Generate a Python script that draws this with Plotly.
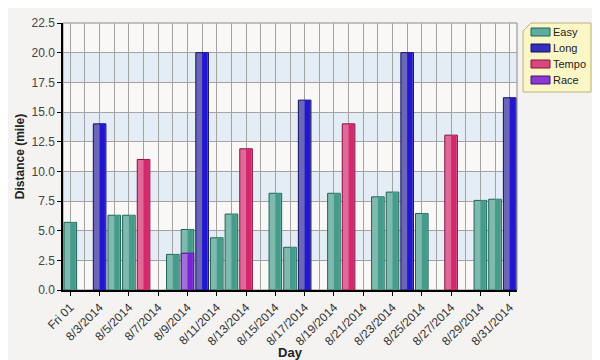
import plotly.graph_objects as go

# ---- data ----
tick_days = list(range(1, 32, 2))
tick_labels = ["Fri 01"] + [f"8/{d}/2014" for d in range(3, 32, 2)]

easy_days = [1, 4, 5, 8, 9, 11, 12, 15, 16, 19, 22, 23, 25, 29, 30]
easy_miles = [5.7, 6.3, 6.3, 3.0, 5.1, 4.4, 6.4, 8.15, 3.6, 8.15, 7.85, 8.25, 6.45, 7.55, 7.65]
long_days = [3, 10, 17, 24, 31]
long_miles = [14.0, 20.0, 16.0, 20.0, 16.2]
tempo_days = [6, 13, 20, 27]
tempo_miles = [11.0, 11.9, 14.0, 13.05]
race_days = [9]
race_miles = [3.1]

# name, days, miles, light fill, dark fill, outline, legend swatch
series = [
    ("Easy", easy_days, easy_miles, "#80b9ae", "#459c8b", "#1d6458", "#5eac9e"),
    ("Long", long_days, long_miles, "#6b66b8", "#2216d2", "#10105e", "#3530b8"),
    ("Tempo", tempo_days, tempo_miles, "#e0699a", "#d2286c", "#861040", "#d8487f"),
    ("Race", race_days, race_miles, "#a070d8", "#7a22d8", "#461078", "#8a3ad0"),
]

W = 0.86
fig = go.Figure()
for name, xs, ys, light, dark, line, sw in series:
    fig.add_trace(go.Bar(
        x=xs, y=ys, name=name, width=W, showlegend=False,
        marker=dict(color=light, line=dict(color=line, width=1)),
    ))
    # darker right half to mimic the shaded bars
    fig.add_trace(go.Bar(
        x=xs, y=ys, name=name, width=W * 0.42, offset=0.0,
        showlegend=False, hoverinfo="skip",
        marker=dict(color=dark, line=dict(width=0)),
    ))

# page body has an 8px margin, so the figure is 8px smaller and shifted
FW, FH = 592, 352
ML, MR, MT, MB = 55, 83, 15, 70
PW, PH = FW - ML - MR, FH - MT - MB


def px(x):  # page pixel -> paper x
    return (x - 8 - ML) / PW


def py(y):  # page pixel -> paper y
    return (FH - MB + 8 - y) / PH


# alternating horizontal bands
shapes = []
for i, y0 in enumerate([0, 2.5, 5, 7.5, 10, 12.5, 15, 17.5, 20]):
    if i % 2 == 1:
        shapes.append(dict(type="rect", xref="paper", yref="y", x0=0, x1=1,
                           y0=y0, y1=y0 + 2.5, fillcolor="#e4edf5",
                           line=dict(width=0), layer="below"))
shapes.append(dict(type="rect", xref="paper", yref="paper", x0=0, x1=1, y0=0, y1=1,
                   line=dict(color="#8a8a8a", width=1), layer="below"))

# custom legend box with clipped corner
bx0, bx1, by0, by1, cut = 523, 591, 23, 92, 8
path = (f"M {px(bx0 + cut)},{py(by0)} L {px(bx1)},{py(by0)} L {px(bx1)},{py(by1)} "
        f"L {px(bx0)},{py(by1)} L {px(bx0)},{py(by0 + cut)} Z")
shapes.append(dict(type="path", xref="paper", yref="paper", path=path,
                   fillcolor="#fbf6c6", line=dict(color="#b9b27a", width=1),
                   layer="above"))
annotations = []
for i, s in enumerate(series):
    name, line, sw = s[0], s[5], s[6]
    cy = 32 + i * 16
    shapes.append(dict(type="rect", xref="paper", yref="paper",
                       x0=px(531), x1=px(550), y0=py(cy - 4), y1=py(cy + 4),
                       fillcolor=sw, line=dict(color=line, width=1), layer="above"))
    annotations.append(dict(xref="paper", yref="paper", x=px(552), y=py(cy),
                            xanchor="left", yanchor="middle", text=name,
                            showarrow=False, borderpad=0,
                            font=dict(size=11, color="#222")))

fig.update_layout(
    width=FW, height=FH,
    barmode="overlay",
    paper_bgcolor="#f4f3f1",
    plot_bgcolor="#f9f8f6",
    margin=dict(l=ML, r=MR, t=MT, b=MB, autoexpand=False),
    font=dict(family="Liberation Sans, Arial, sans-serif", size=12, color="#333"),
    shapes=shapes,
    annotations=annotations,
    showlegend=False,
)
fig.update_xaxes(
    range=[0.5, 31.5], automargin=False,
    tickmode="array", tickvals=tick_days, ticktext=tick_labels,
    tickangle=-45, ticks="outside", ticklen=4, tickcolor="#000",
    showgrid=True, gridcolor="#a3a3a3", gridwidth=1,
    minor=dict(dtick=1, tick0=0, showgrid=True, gridcolor="#a3a3a3", ticks=""),
    showline=True, linecolor="#000", linewidth=1.5, mirror=False,
    zeroline=False,
    title=dict(text="<b>Day</b>", font=dict(size=13, color="#222"), standoff=0),
    tickfont=dict(size=12, color="#333"),
)
fig.update_yaxes(
    range=[0, 22.5], dtick=2.5, tickformat=".1f", automargin=False,
    ticks="outside", ticklen=4, tickcolor="#000",
    showgrid=True, gridcolor="#a3a3a3", gridwidth=1,
    showline=True, linecolor="#000", linewidth=1.5,
    zeroline=False,
    title=dict(text="<b>Distance (mile)</b>", font=dict(size=12, color="#222"), standoff=4),
    tickfont=dict(size=12, color="#444"),
)

fig.write_html("out.html")
